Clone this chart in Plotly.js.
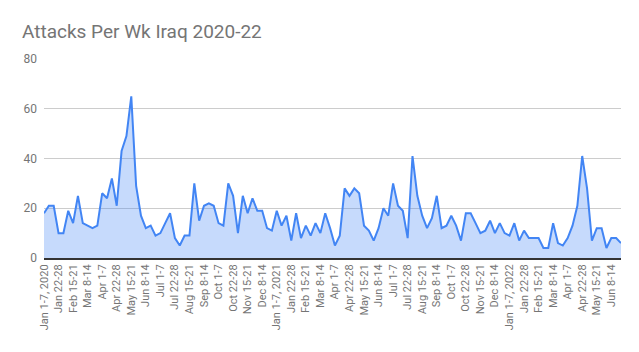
<!DOCTYPE html>
<html>
<head>
<meta charset="utf-8">
<script src="https://cdn.plot.ly/plotly-3.0.1.min.js"></script>
<style>
html,body{margin:0;padding:0;background:#fff;}
#chart{width:639px;height:352px;}
</style>
</head>
<body>
<div id="chart"></div>
<script>
// Category construction pieces
const years = [2020, 2021, 2022];
const months = ["Jan","Feb","Mar","Apr","May","Jun","Jul","Aug","Sep","Oct","Nov","Dec"];
const weekRanges = ["1-7","8-14","15-21","22-28"];

// Weekly attack counts
const attacks = [
  18,21,21,10,10,19,14,25,14,13,12,13,26,24,32,21,43,49,65,29,
  17,12,13,9,10,14,18,8,5,9,9,30,15,21,22,21,14,13,30,25,
  10,25,18,24,19,19,12,11,19,13,17,7,18,8,13,9,14,10,18,12,
  5,9,28,25,28,26,13,11,7,12,20,17,30,21,19,8,41,25,17,12,
  16,25,12,13,17,13,7,18,18,14,10,11,15,10,14,10,9,14,7,11,
  8,8,8,4,4,14,6,5,8,13,21,41,28,7,12,12,4,8,8,6
];

// Build week labels
const weekLabels = [];
years.forEach(y => {
  months.forEach(m => {
    weekRanges.forEach(w => {
      if (m === "Jan" && w === "1-7") weekLabels.push(m + " " + w + ", " + y);
      else weekLabels.push(m + " " + w);
    });
  });
});

const n = attacks.length;
const xIdx = attacks.map((_, i) => i);
const tickvals = [], ticktext = [];
for (let i = 0; i < n; i += 3) { tickvals.push(i); ticktext.push(weekLabels[i]); }

const trace = {
  x: xIdx,
  y: attacks,
  type: 'scatter',
  mode: 'lines',
  fill: 'tozeroy',
  fillcolor: 'rgba(66,133,244,0.3)',
  line: {color: '#4285f4', width: 2},
  hoverinfo: 'skip'
};

const layout = {
  width: 639, height: 352,
  margin: {l: 44, r: 18, t: 59, b: 94},
  paper_bgcolor: '#fff', plot_bgcolor: '#fff',
  font: {family: 'Roboto, Arial, sans-serif', color: '#757575'},
  title: {
    text: 'Attacks Per Wk Iraq 2020-22',
    x: 22/639, xanchor: 'left', xref: 'container',
    y: 1 - 31/352, yanchor: 'middle', yref: 'container',
    font: {family: 'Roboto, Arial, sans-serif', size: 19, color: '#757575'}
  },
  showlegend: false,
  xaxis: {
    range: [0, n - 1],
    tickmode: 'array', tickvals: tickvals, ticktext: ticktext,
    tickangle: -90,
    tickfont: {size: 11, color: '#757575'},
    showgrid: false, zeroline: false,
    showline: true, linecolor: '#333', linewidth: 2,
    ticks: '', fixedrange: true
  },
  yaxis: {
    range: [0, 80],
    tickvals: [0, 20, 40, 60, 80],
    tickfont: {size: 12, color: '#757575'},
    gridcolor: '#cccccc', gridwidth: 1,
    zeroline: false, showline: false,
    ticks: '', ticklabelstandoff: 6, fixedrange: true
  }
};

Plotly.newPlot('chart', [trace], layout, {displayModeBar: false, staticPlot: true});
</script>
</body>
</html>
